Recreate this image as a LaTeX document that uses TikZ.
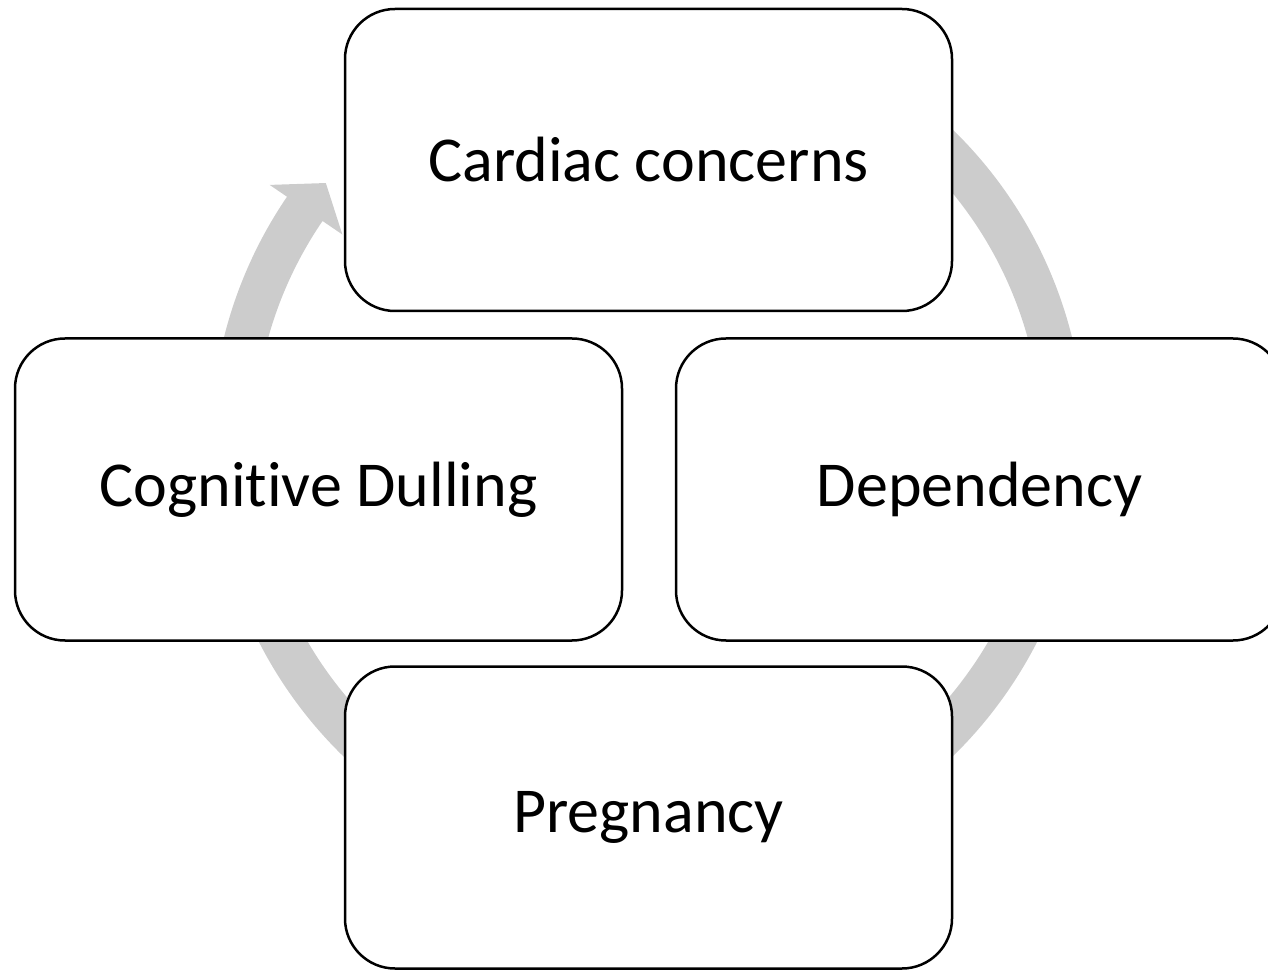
\documentclass[tikz,border=0pt]{standalone}
\usepackage{fontspec}
\setmainfont{Carlito}[Ligatures=NoCommon]
\usetikzlibrary{positioning}
\usepackage{xcolor}
\definecolor{cyclegray}{HTML}{CCCCCC}

\begin{document}
\begin{tikzpicture}[x=1pt, y=1pt,
  block/.style={draw, line width=2.5pt, rounded corners=50pt, fill=white,
    minimum width=607pt, minimum height=302pt, font=\fontsize{64}{76}\selectfont}]
\clip (0,0) rectangle (1268,970);

% Cycle arrow
\coordinate (centre) at (648,527);
\fill[cyclegray] ([shift={(60:437)}]centre) arc[start angle=60, end angle=-214.3, radius=437]
  -- ([shift={(-214.3:458)}]centre) -- ([shift={(-218.9:414)}]centre)
  -- ([shift={(-214.3:370)}]centre) -- ([shift={(-214.3:394)}]centre)
  arc[start angle=-214.3, end angle=60, radius=394] -- cycle;

% Blocks
\foreach \name/\x/\y/\txt in {cardiac/648.5/810/Cardiac concerns,
    cognitive/318.5/480.5/Cognitive Dulling,
    dependency/979.5/480.5/Dependency,
    pregnancy/648.5/152.5/Pregnancy} {
  \node[block] (\name) at (\x,\y) {\txt};
}
\end{tikzpicture}
\end{document}
